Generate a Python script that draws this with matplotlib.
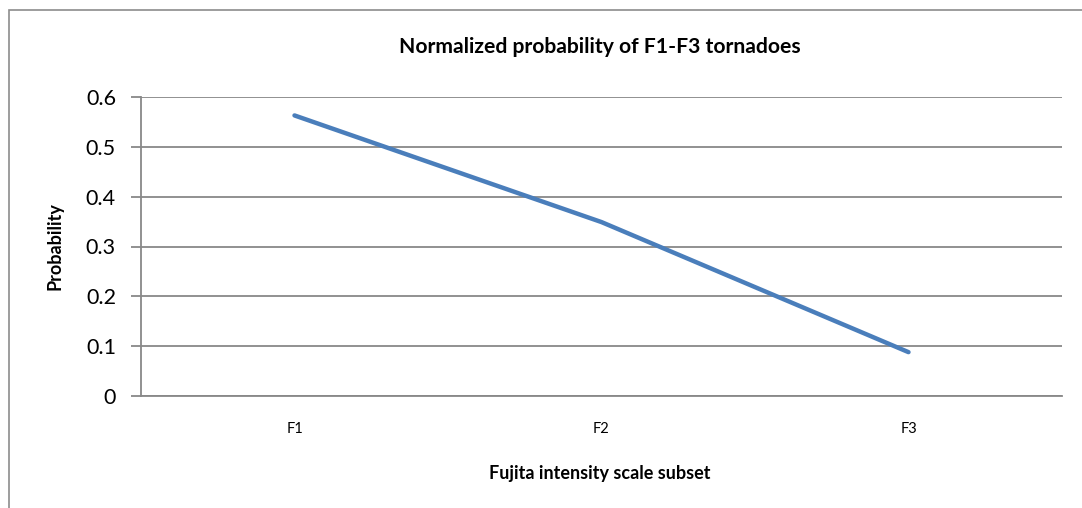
import matplotlib
matplotlib.use("Agg")
import matplotlib.pyplot as plt
from matplotlib.patches import Rectangle

categories = ["F1", "F2", "F3"]
probability = [0.563, 0.349, 0.088]
yticks = [0, 0.1, 0.2, 0.3, 0.4, 0.5, 0.6]
ytick_labels = ["0", "0.1", "0.2", "0.3", "0.4", "0.5", "0.6"]

plt.rcParams['font.family'] = ['Lato', 'DejaVu Sans']

W, H = 1082, 508
fig = plt.figure(figsize=(W / 100, H / 100), dpi=100)
fig.patch.set_facecolor("white")

# outer chart border (cropped at right and bottom)
fig.patches.append(Rectangle((9 / W, -0.1), 1.2, (H - 10) / H + 0.1,
                             transform=fig.transFigure, fill=False,
                             edgecolor="#8c8c8c", linewidth=1.2))

ax = fig.add_axes([141 / W, (H - 396) / H, (1062 - 141) / W, (396 - 97) / H])
x = [i + 0.5 for i in range(len(categories))]
ax.plot(x, probability, color="#4a7ebb", linewidth=3.2, solid_capstyle="round",
        solid_joinstyle="round", zorder=3)

ax.set_xlim(0, len(categories))
ax.set_ylim(0, 0.6)
ax.set_yticks(yticks)
ax.set_yticklabels(ytick_labels, fontsize=15.5)
ax.set_xticks(x)
ax.set_xticklabels(categories, fontsize=10.5)
ax.yaxis.grid(True, color="#888888", linewidth=1.3)
ax.set_axisbelow(True)
for s in ["top", "right"]:
    ax.spines[s].set_visible(False)
for s in ["left", "bottom"]:
    ax.spines[s].set_color("#888888")
    ax.spines[s].set_linewidth(1.3)
ax.tick_params(axis="y", length=7, width=1.3, color="#888888", pad=11)
ax.tick_params(axis="x", length=0, pad=19)

fig.text(600 / W, (H - 47) / H, "Normalized probability of F1-F3 tornadoes",
         ha="center", va="center", fontsize=15.2, fontweight="bold")
fig.text(600 / W, (H - 473) / H, "Fujita intensity scale subset",
         ha="center", va="center", fontsize=13, fontweight="bold")
fig.text(55 / W, (H - 246) / H, "Probability", rotation=90,
         ha="center", va="center", fontsize=13, fontweight="bold")

fig.savefig("out.png", dpi=100)
